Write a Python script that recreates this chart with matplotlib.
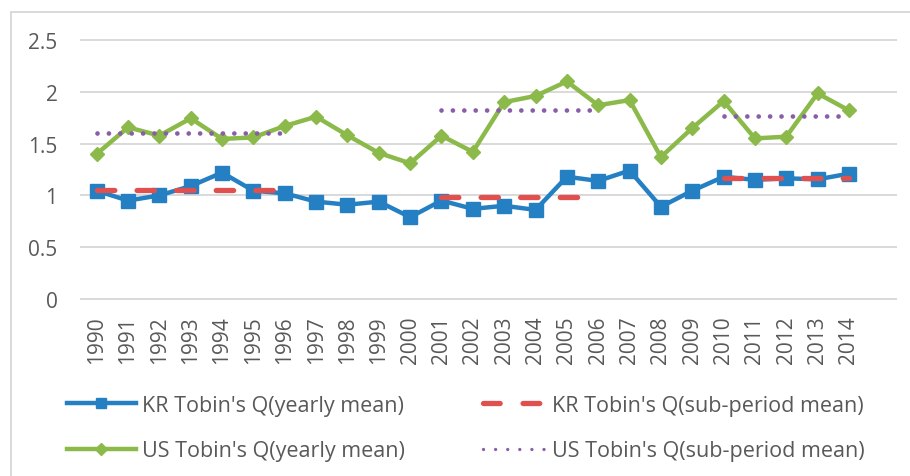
import matplotlib
matplotlib.use('Agg')
import matplotlib.pyplot as plt
from matplotlib.lines import Line2D
from matplotlib.patches import Rectangle

plt.rcParams['font.family'] = ['Open Sans', 'DejaVu Sans']
plt.rcParams['lines.scale_dashes'] = False

# categories (one empty slot after 2014, like the Excel chart)
years = [1990, 1991, 1992, 1993, 1994, 1995, 1996, 1997, 1998, 1999, 2000, 2001, 2002,
         2003, 2004, 2005, 2006, 2007, 2008, 2009, 2010, 2011, 2012, 2013, 2014]

kr_yearly = [1.045, 0.95, 1.00, 1.09, 1.22, 1.045, 1.02, 0.94, 0.91, 0.94, 0.79, 0.95, 0.87,
             0.90, 0.86, 1.18, 1.14, 1.24, 0.89, 1.045, 1.18, 1.15, 1.165, 1.155, 1.21]
us_yearly = [1.40, 1.657, 1.577, 1.744, 1.545, 1.56, 1.67, 1.76, 1.58, 1.41, 1.31, 1.576, 1.42,
             1.90, 1.96, 2.10, 1.87, 1.92, 1.37, 1.65, 1.91, 1.55, 1.567, 1.985, 1.82]

# sub-period means: start year, end year, value
kr_sub_start = [1990, 2001, 2010]
kr_sub_end = [1996, 2006, 2014]
kr_sub_value = [1.052, 0.985, 1.168]
us_sub_start = [1990, 2001, 2010]
us_sub_end = [1996, 2006, 2014]
us_sub_value = [1.60, 1.824, 1.766]

blue = '#2580C3'
red = '#E0504F'
green = '#8BBA4B'
purple = '#8A5DA8'
grey = '#595959'
grid = '#D9D9D9'

fig = plt.figure(figsize=(9.1, 4.77), dpi=100)
W, H = 910, 477
ax = fig.add_axes([81 / W, 1 - 300 / H, 815 / W, 259 / H])

x = list(range(len(years)))

ax.plot(x, kr_yearly, color=blue, lw=3.2, marker='s', ms=9.5, zorder=3)
ax.plot(x, us_yearly, color=green, lw=3.2, marker='D', ms=7.5, zorder=3)

# sub-period means, drawn on top
for s, e, v in zip(kr_sub_start, kr_sub_end, kr_sub_value):
    i0, i1 = years.index(s), years.index(e)
    ax.plot([i0, i1], [v, v], color=red, lw=3.8, dashes=(12.5, 16),
            dash_capstyle='round', zorder=4)
for s, e, v in zip(us_sub_start, us_sub_end, us_sub_value):
    i0, i1 = years.index(s), years.index(e)
    ax.plot([i0, i1], [v, v], color=purple, lw=3.4, dashes=(0.01, 8.2),
            dash_capstyle='round', zorder=4)

ax.set_xlim(-0.5, len(years) + 0.5)
ax.set_ylim(0, 2.5)
yt = [0, 0.5, 1, 1.5, 2, 2.5]
ax.set_yticks(yt)
ax.set_yticklabels(['0', '0.5', '1', '1.5', '2', '2.5'])
for v in yt:
    ax.axhline(v, color=grid, lw=1.4, zorder=1, clip_on=False)
ax.set_xticks(x)
ax.set_xticklabels([str(y) for y in years], rotation=90)
for s in ax.spines.values():
    s.set_visible(False)
ax.tick_params(axis='both', length=0, labelcolor=grey, labelsize=15)
ax.tick_params(axis='y', pad=17)
ax.tick_params(axis='x', pad=12)

# outer chart border
fig.patches.append(Rectangle((11 / W, -0.1), 1.2, 1.1 - 13 / H, transform=fig.transFigure,
                             fill=False, edgecolor=grid, lw=1.4))

# legend, two columns placed separately
col1_handles = [Line2D([], [], color=blue, lw=3.2, marker='s', ms=7),
                Line2D([], [], color=green, lw=3.2, marker='D', ms=6)]
col1_labels = ["KR Tobin's Q(yearly mean)", "US Tobin's Q(yearly mean)"]
col2_handles = [Line2D([], [], color=red, lw=3.8, dashes=(12, 16.5), dash_capstyle='round'),
                Line2D([], [], color=purple, lw=2.4, dashes=(0.01, 8.7), dash_capstyle='round')]
col2_labels = ["KR Tobin's Q(sub-period mean)", "US Tobin's Q(sub-period mean)"]

for hs, ls, x0, hl in [(col1_handles, col1_labels, 67, 3.2), (col2_handles, col2_labels, 483, 2.9)]:
    leg = fig.legend(hs, ls, loc='upper left', bbox_to_anchor=(x0 / W, 1 - 396 / H),
                     frameon=False, fontsize=15.5, handlelength=hl, handletextpad=0.3,
                     labelspacing=1.12, borderpad=0, borderaxespad=0, numpoints=1)
    for t in leg.get_texts():
        t.set_color(grey)

fig.savefig('out.png', dpi=100)
